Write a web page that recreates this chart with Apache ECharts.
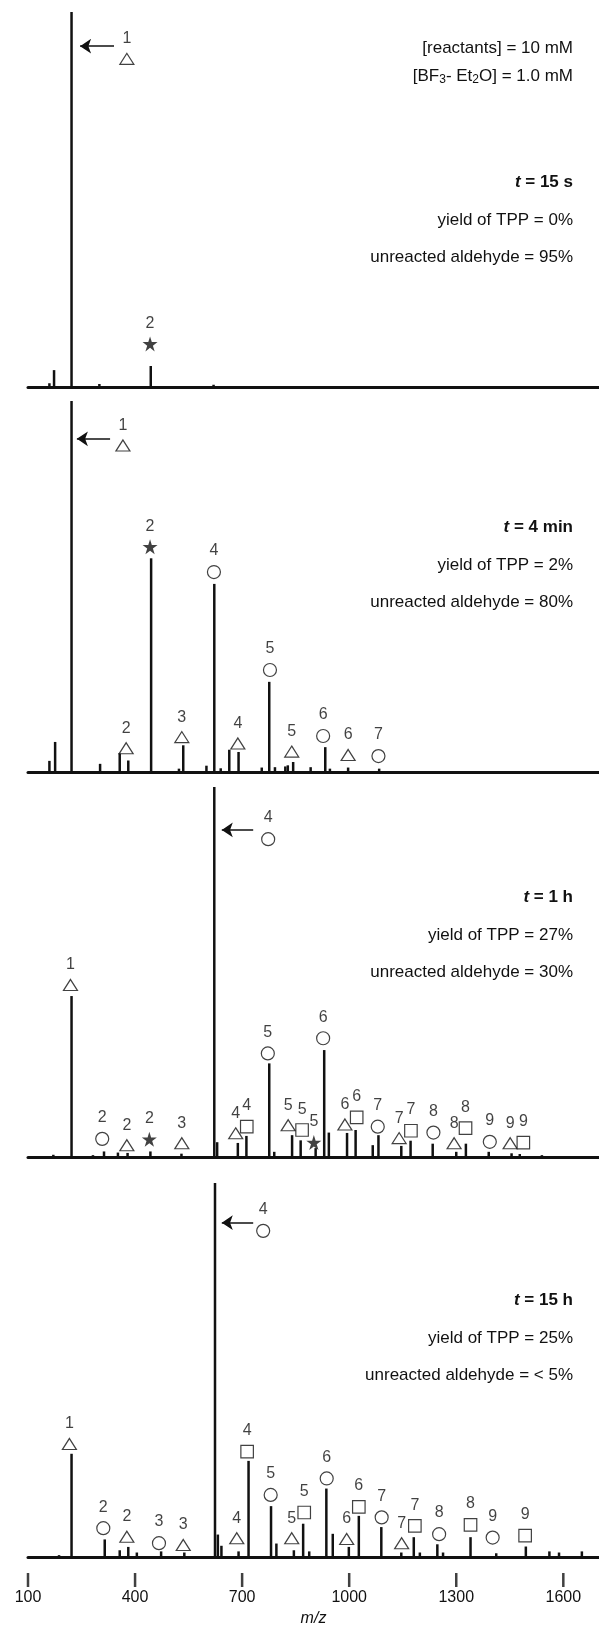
<!DOCTYPE html>
<html>
<head>
<meta charset="utf-8">
<script src="https://cdn.jsdelivr.net/npm/echarts@6/dist/echarts.min.js"></script>
<style>
html, body { margin: 0; padding: 0; background: #fff; }
#main { width: 599px; height: 1635px; }
</style>
</head>
<body>
<div id="main"></div>
<script>
// m/z axis
var mzMin = 100, mzMax = 1700;
var tickValues = [100, 400, 700, 1000, 1300, 1600];

// peaks: [m/z, relative intensity %]
var peaks15s = [[160, 1], [173, 4.5], [222, 100], [300, 0.8], [444, 5.6], [620, 0.6]];
var peaks4min = [[160, 3], [176, 8.1], [222, 100], [302, 2.2], [357, 5.1], [381, 3.1], [445, 57.6],
    [523, 0.9], [535, 7.2], [600, 1.7], [622, 50.7], [640, 1], [664, 6], [690, 5.4], [755, 1.2],
    [776, 24.3], [792, 1.3], [821, 1.5], [828, 1.8], [843, 2.7], [892, 1.3], [933, 6.7], [946, 0.9],
    [997, 1.2], [1084, 0.9]];
var peaks1h = [[171, 0.6], [222, 43.5], [282, 0.5], [313, 1.5], [352, 1.2], [379, 1.1], [443, 1.5],
    [530, 0.9], [622, 100], [630, 4], [688, 3.8], [712, 5.7], [776, 25.3], [790, 1.4], [840, 5.9],
    [864, 4.5], [906, 2.4], [930, 28.9], [943, 6.6], [994, 6.5], [1018, 7.3], [1066, 3.2], [1082, 5.9],
    [1146, 3], [1172, 4.4], [1234, 3.6], [1300, 1.4], [1327, 3.6], [1391, 1.4], [1455, 1], [1478, 0.8],
    [1540, 0.5]];
var peaks15h = [[187, 0.5], [222, 27.6], [315, 4.7], [357, 1.8], [381, 2.7], [405, 1.2], [473, 1.5],
    [538, 1.2], [624, 100], [632, 6], [642, 3], [690, 1.5], [718, 25.7], [781, 13.6], [796, 3.6],
    [845, 1.8], [871, 8.9], [888, 1.5], [936, 18.3], [954, 6.2], [999, 2.7], [1027, 11], [1090, 8],
    [1146, 1.2], [1181, 5.3], [1198, 1.2], [1247, 3.4], [1263, 1.2], [1340, 5.3], [1412, 1], [1495, 2.8],
    [1561, 1.5], [1588, 1.2], [1652, 1.5]];

// peak assignments: [m/z, height %, oligomer number]
var tri15s = [[377, 87.5, '1']];
var star15s = [[442, 11.5, '2']];

var tri4min = [[366, 88, '1'], [375, 6.4, '2'], [531, 9.4, '3'], [688, 7.7, '4'], [839, 5.5, '5'], [997, 4.6, '6']];
var circ4min = [[621, 53.9, '4'], [778, 27.5, '5'], [927, 9.7, '6'], [1082, 4.3, '7']];
var star4min = [[442, 60.7, '2']];

var tri1h = [[219, 46.5, '1'], [377, 3.2, '2'], [531, 3.7, '3'], [682, 6.4, '4'], [829, 8.6, '5'],
    [988, 8.8, '6'], [1140, 5.1, '7'], [1294, 3.7, '8'], [1451, 3.7, '9']];
var circ1h = [[773, 85.9, '4'], [308, 4.9, '2'], [772, 28, '5'], [927, 32.1, '6'], [1080, 8.2, '7'],
    [1236, 6.6, '8'], [1394, 4.1, '9']];
var sq1h = [[713, 8.2, '4'], [868, 7.3, '5'], [1021, 10.7, '6'], [1173, 7.1, '7'], [1326, 7.8, '8'], [1488, 3.9, '9']];
var star1h = [[440, 4.8, '2'], [901, 3.9, '5']];

var tri15h = [[216, 30.2, '1'], [377, 5.4, '2'], [535, 3.2, '3'], [685, 5, '4'], [839, 5, '5'],
    [993, 4.8, '6'], [1147, 3.7, '7']];
var circ15h = [[759, 87.2, '4'], [311, 7.7, '2'], [467, 3.7, '3'], [780, 16.6, '5'], [937, 21, '6'],
    [1091, 10.6, '7'], [1252, 6.1, '8'], [1402, 5.2, '9']];
var sq15h = [[714, 28.2, '4'], [874, 11.9, '5'], [1027, 13.4, '6'], [1184, 8.3, '7'], [1340, 8.6, '8'], [1493, 5.7, '9']];

// arrows to the base peak: [tail m/z, tip m/z, height %]
var arrow15s = [341, 246, 90.9];
var arrow4min = [330, 237, 89.8];
var arrow1h = [731, 643, 88.4];
var arrow15h = [731, 643, 89.4];

var times = ['15 s', '4 min', '1 h', '15 h'];
var yields = ['0%', '2%', '27%', '25%'];
var aldehyde = ['95%', '80%', '30%', '< 5%'];

var FONT = '"Liberation Sans", Arial, Helvetica, sans-serif';
var INK = '#111';
var starPath = 'path://M0,-100L22.3,-30.7L95.1,-30.9L36.1,11.7L58.8,80.9L0,38L-58.8,80.9L-36.1,11.7L-95.1,-30.9L-22.3,-30.7Z';

var gridTops = [12, 401, 787, 1183];
var gridHeights = [375, 371, 370, 374];
var infoY = [182, 527, 897, 1300];

var panels = [
    {peaks: peaks15s, tri: tri15s, circ: [], sq: [], star: star15s, arrow: arrow15s},
    {peaks: peaks4min, tri: tri4min, circ: circ4min, sq: [], star: star4min, arrow: arrow4min},
    {peaks: peaks1h, tri: tri1h, circ: circ1h, sq: sq1h, star: star1h, arrow: arrow1h},
    {peaks: peaks15h, tri: tri15h, circ: circ15h, sq: sq15h, star: [], arrow: arrow15h}
];

function markers(i, data, symbol, size, filled) {
    return {
        type: 'scatter', xAxisIndex: i, yAxisIndex: i, data: data, silent: true, z: 5,
        symbol: symbol, symbolSize: size,
        itemStyle: filled ? {color: INK} : {color: '#fff', borderColor: INK, borderWidth: 1.2},
        label: {
            show: true, position: 'top', distance: filled ? 5 : 6,
            color: INK, fontSize: 16, fontFamily: FONT,
            formatter: function (p) { return p.value[2]; }
        }
    };
}

var grid = [], xAxis = [], yAxis = [], series = [], title = [];
var TXT = 17;

panels.forEach(function (p, i) {
    grid.push({left: 28, right: 0, top: gridTops[i], height: gridHeights[i]});
    xAxis.push({
        gridIndex: i, type: 'value', min: mzMin, max: mzMax,
        axisLine: {onZero: false, lineStyle: {color: INK, width: 3}},
        axisTick: {show: false}, axisLabel: {show: false}, splitLine: {show: false}
    });
    yAxis.push({gridIndex: i, type: 'value', min: 0, max: 100, show: false});

    series.push({
        type: 'bar', xAxisIndex: i, yAxisIndex: i, data: p.peaks, barWidth: 2.5, silent: true,
        itemStyle: {color: INK}
    });
    series.push(markers(i, p.tri, 'triangle', [14, 11], false));
    series.push(markers(i, p.circ, 'circle', 13, false));
    series.push(markers(i, p.sq, 'rect', 12.5, false));
    series.push(markers(i, p.star, starPath, 15, true));
    series.push({
        type: 'lines', coordinateSystem: 'cartesian2d', xAxisIndex: i, yAxisIndex: i, silent: true,
        symbol: ['none', 'arrow'], symbolSize: 11,
        lineStyle: {color: INK, width: 1.5, opacity: 1},
        data: [{coords: [[p.arrow[0], p.arrow[2]], [p.arrow[1], p.arrow[2]]]}]
    });

    var base = {fontSize: TXT, fontFamily: FONT, color: INK, fontWeight: 'normal', lineHeight: 20};
    title.push({
        text: '{i|t} = ' + times[i], right: 26, top: infoY[i] - 10, padding: 0,
        textStyle: Object.assign({}, base, {fontWeight: 'bold',
            rich: {i: {fontSize: TXT, fontFamily: FONT, color: INK, fontWeight: 'bold', fontStyle: 'italic', lineHeight: 20}}})
    });
    title.push({text: 'yield of TPP = ' + yields[i], right: 26, top: infoY[i] + 28, padding: 0, textStyle: base});
    title.push({text: 'unreacted aldehyde = ' + aldehyde[i], right: 26, top: infoY[i] + 65, padding: 0, textStyle: base});
});

var base0 = {fontSize: TXT, fontFamily: FONT, color: INK, fontWeight: 'normal', lineHeight: 20};
title.push({text: '[reactants] = 10 mM', right: 26, top: 38, padding: 0, textStyle: base0});
title.push({
    text: '[BF{s|3}- Et{s|2}O] = 1.0 mM', right: 26, top: 66, padding: 0,
    textStyle: Object.assign({}, base0, {
        rich: {s: {fontSize: 12, fontFamily: FONT, color: INK, verticalAlign: 'bottom', lineHeight: 20}}
    })
});

// m/z scale: a detached strip under the last panel; the tick marks fill the strip
grid.push({left: 28, right: 0, top: 1573, height: 14});
yAxis.push({gridIndex: 4, type: 'value', min: 0, max: 1, show: false});
xAxis.push({
    gridIndex: 4, type: 'value', min: mzMin, max: mzMax, position: 'bottom',
    name: 'm/z', nameLocation: 'middle', nameGap: 24,
    nameTextStyle: {fontSize: 16, fontStyle: 'italic', fontFamily: FONT, color: INK},
    axisLine: {show: false},
    axisTick: {show: false},
    axisLabel: {
        show: true, margin: 3, customValues: tickValues, fontSize: 16, fontFamily: FONT, color: INK,
        formatter: function (v) { return String(v); }
    },
    splitLine: {show: false}
});
series.push({
    type: 'scatter', xAxisIndex: 4, yAxisIndex: 4, silent: true,
    data: tickValues.map(function (v) { return [v, 0.5]; }),
    symbol: 'rect', symbolSize: [2.5, 14], itemStyle: {color: INK}
});

var chart = echarts.init(document.getElementById('main'));
chart.setOption({
    animation: false,
    backgroundColor: '#fff',
    title: title,
    grid: grid,
    xAxis: xAxis,
    yAxis: yAxis,
    series: series
});
</script>
</body>
</html>
